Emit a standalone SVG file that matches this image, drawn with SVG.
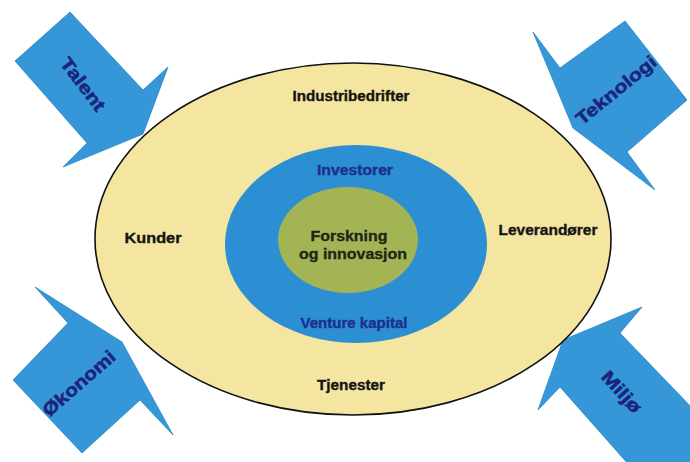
<svg xmlns="http://www.w3.org/2000/svg" width="690" height="462" viewBox="0 0 690 462">
  <style>
    .arrow { fill: #3597d8; stroke: #2a86c8; stroke-width: 0.8; stroke-linejoin: miter; }
    .arrow-label { font-family: "Liberation Sans", Arial, sans-serif; font-weight: bold; font-size: 18px; fill: #1a2478; stroke: #1a2478; stroke-width: 0.5; text-anchor: middle; }
    .outer-label { font-family: "Liberation Sans", Arial, sans-serif; font-weight: bold; font-size: 14.5px; fill: #141414; stroke: #141414; stroke-width: 0.35; text-anchor: middle; }
    .ring-label { font-family: "Liberation Sans", Arial, sans-serif; font-weight: bold; font-size: 14.5px; fill: #1d2f8a; stroke: #1d2f8a; stroke-width: 0.35; text-anchor: middle; }
    .core-label { font-family: "Liberation Sans", Arial, sans-serif; font-weight: bold; font-size: 15px; fill: #1e2418; stroke: #1e2418; stroke-width: 0.3; text-anchor: middle; }
  </style>

  <rect width="690" height="462" fill="#ffffff"/>

  <!-- Input arrows pointing at the cluster -->
  <g id="connectors">
    <g id="arrow-talent">
      <polygon class="arrow" points="15,61 70,12 143,90 168,67 143,134 63,167 87,143"/>
      <text class="arrow-label" transform="translate(78,88) rotate(53)" textLength="62" lengthAdjust="spacingAndGlyphs">Talent</text>
    </g>
    <g id="arrow-teknologi">
      <polygon class="arrow" points="625,21 687,100 627,152 655,190 573,128 533,32 560,68"/>
      <text class="arrow-label" transform="translate(620,95) rotate(-39)" textLength="98" lengthAdjust="spacingAndGlyphs">Teknologi</text>
    </g>
    <g id="arrow-okonomi">
      <polygon class="arrow" points="13,380 68,323 35,287 122,342 173,435 140,400 82,453"/>
      <text class="arrow-label" transform="translate(83,388) rotate(-41)" textLength="90" lengthAdjust="spacingAndGlyphs">Økonomi</text>
    </g>
    <g id="arrow-miljo">
      <polygon class="arrow" points="642,307 620,333 720,437 660,500 560,387 538,410 563,340"/>
      <text class="arrow-label" transform="translate(617,396) rotate(48)" textLength="50" lengthAdjust="spacingAndGlyphs">Miljø</text>
    </g>
  </g>

  <!-- Outer ring: companies, customers, suppliers, services -->
  <g id="node-outer">
    <ellipse cx="353" cy="239" rx="258" ry="176" fill="#f4e5a1" stroke="#111111" stroke-width="1.6"/>
    <text class="outer-label" x="351" y="101" textLength="117" lengthAdjust="spacingAndGlyphs">Industribedrifter</text>
    <text class="outer-label" x="153" y="243" textLength="57" lengthAdjust="spacingAndGlyphs">Kunder</text>
    <text class="outer-label" x="548" y="235" textLength="99" lengthAdjust="spacingAndGlyphs">Leverandører</text>
    <text class="outer-label" x="351" y="390" textLength="68" lengthAdjust="spacingAndGlyphs">Tjenester</text>
  </g>

  <!-- Middle ring: capital -->
  <g id="node-capital">
    <ellipse cx="356" cy="244" rx="131" ry="99" fill="#2c8fd4"/>
    <text class="ring-label" x="355" y="175" textLength="76" lengthAdjust="spacingAndGlyphs">Investorer</text>
    <text class="ring-label" x="354" y="328" textLength="107" lengthAdjust="spacingAndGlyphs">Venture kapital</text>
  </g>

  <!-- Core: research and innovation -->
  <g id="node-core">
    <ellipse cx="348" cy="240" rx="70" ry="53" fill="#a2b453"/>
    <text class="core-label" x="349" y="241" textLength="77" lengthAdjust="spacingAndGlyphs">Forskning</text>
    <text class="core-label" x="353" y="259" textLength="108" lengthAdjust="spacingAndGlyphs">og innovasjon</text>
  </g>
</svg>
